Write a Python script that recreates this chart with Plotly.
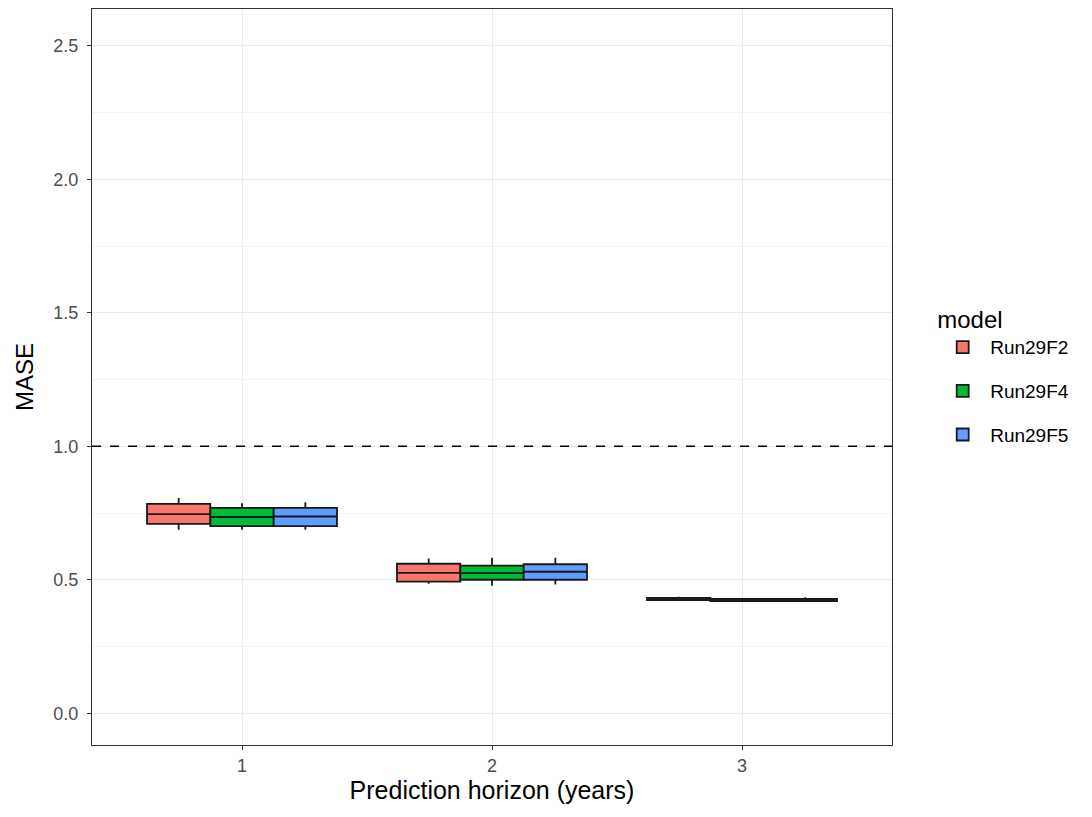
import plotly.graph_objects as go

horizons = [1, 2, 3]
models = ["Run29F2", "Run29F4", "Run29F5"]
colors = ["#F8766D", "#00BA38", "#619CFF"]

# per model: values at horizons 1, 2, 3
lower = {
    "Run29F2": [0.687, 0.485, 0.421],
    "Run29F4": [0.687, 0.478, 0.417],
    "Run29F5": [0.687, 0.482, 0.417],
}
q1 = {
    "Run29F2": [0.709, 0.493, 0.424],
    "Run29F4": [0.701, 0.500, 0.420],
    "Run29F5": [0.701, 0.500, 0.420],
}
median = {
    "Run29F2": [0.746, 0.526, 0.428],
    "Run29F4": [0.735, 0.525, 0.424],
    "Run29F5": [0.737, 0.530, 0.424],
}
q3 = {
    "Run29F2": [0.784, 0.560, 0.432],
    "Run29F4": [0.769, 0.553, 0.428],
    "Run29F5": [0.769, 0.558, 0.428],
}
upper = {
    "Run29F2": [0.806, 0.580, 0.436],
    "Run29F4": [0.787, 0.582, 0.432],
    "Run29F5": [0.790, 0.582, 0.434],
}

fig = go.Figure()
for m, c in zip(models, colors):
    fig.add_trace(go.Box(
        x=horizons, name=m, legendgroup=m,
        q1=q1[m], median=median[m], q3=q3[m],
        lowerfence=lower[m], upperfence=upper[m],
        fillcolor=c, line=dict(color="#1a1a1a", width=1.8),
        whiskerwidth=0, boxpoints=False, hoverinfo="skip",
    ))

fig.add_shape(type="line", xref="paper", x0=0, x1=1, yref="y", y0=1, y1=1,
              line=dict(color="black", width=1.6, dash="dash"))

axis_common = dict(
    showline=True, linecolor="#333333", linewidth=1.2, mirror=True,
    ticks="outside", ticklen=4, tickcolor="#333333", tickwidth=1,
    tickfont=dict(size=18, color="#4D4D4D"),
    gridcolor="#EBEBEB", gridwidth=1, zeroline=False,
)

fig.update_layout(
    width=1092, height=817,
    margin=dict(l=84, r=208, t=1, b=80),
    paper_bgcolor="white", plot_bgcolor="white",
    font=dict(family="Liberation Sans, Arial, sans-serif", color="black"),
    boxmode="group", boxgap=0.24, boxgroupgap=0,
    xaxis=dict(range=[0.4, 3.6], tickvals=horizons, ticktext=[str(h) for h in horizons],
               title=dict(text="Prediction horizon (years)", font=dict(size=25), standoff=2),
               **axis_common),
    yaxis=dict(range=[-0.119, 2.638], tickvals=[0, 0.5, 1.0, 1.5, 2.0, 2.5],
               ticktext=["0.0", "0.5", "1.0", "1.5", "2.0", "2.5"],
               ticklabelstandoff=5,
               title=dict(text="MASE", font=dict(size=24), standoff=12),
               minor=dict(tickvals=[0.25, 0.75, 1.25, 1.75, 2.25], showgrid=True,
                          gridcolor="#F4F4F4", gridwidth=0.8, ticks=""),
               **axis_common),
    legend=dict(
        title=dict(text="model", font=dict(size=24)),
        font=dict(size=19), x=1.054, xanchor="left", y=0.502, yanchor="middle",
        traceorder="grouped", tracegroupgap=16, itemwidth=45,
        bgcolor="rgba(0,0,0,0)",
    ),
    showlegend=True,
)

fig.write_html("out.html")
